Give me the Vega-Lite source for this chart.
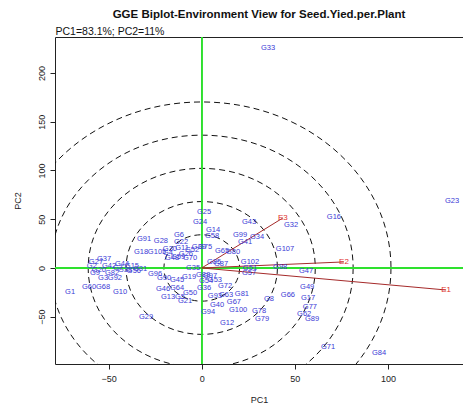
{
  "$schema": "https://vega.github.io/schema/vega-lite/v6.json",
  "autosize": "none",
  "padding": {"left": 55, "top": 37, "right": 0, "bottom": 44},
  "width": 408,
  "height": 327,
  "background": "white",
  "config": {
    "view": {"stroke": "#222", "strokeWidth": 1},
    "font": "Liberation Sans"
  },
  "title": {
    "text": "GGE Biplot-Environment View for Seed.Yied.per.Plant",
    "font": "Liberation Sans",
    "fontSize": 11.5,
    "fontWeight": "bold",
    "color": "#111",
    "anchor": "middle",
    "offset": 6
  },
  "datasets": {
    "rings": [
      {"ring": 1, "cx": 0, "cy": 0},
      {"ring": 2, "cx": 0, "cy": 0},
      {"ring": 3, "cx": 0, "cy": 0},
      {"ring": 4, "cx": 0, "cy": 0},
      {"ring": 5, "cx": 0, "cy": 0}
    ],
    "envs": [
      {"e": "E1", "x": 131.2, "y": -22.6},
      {"e": "E2", "x": 76.4, "y": 6.2},
      {"e": "E3", "x": 43.6, "y": 51.3}
    ],
    "genos": [
      {"g": "G33", "x": 35.6, "y": 225.6},
      {"g": "G23", "x": 134.4, "y": 68.7},
      {"g": "G16", "x": 71.0, "y": 52.3},
      {"g": "G32", "x": 48.0, "y": 44.1},
      {"g": "G43", "x": 25.4, "y": 47.2},
      {"g": "G25", "x": 1.2, "y": 57.4},
      {"g": "G24", "x": -0.9, "y": 47.2},
      {"g": "G14", "x": 6.1, "y": 39.0},
      {"g": "G58", "x": 5.5, "y": 32.8},
      {"g": "G99", "x": 20.6, "y": 33.8},
      {"g": "G34", "x": 29.7, "y": 31.8},
      {"g": "G41", "x": 23.3, "y": 26.7},
      {"g": "G91", "x": -31.0, "y": 29.7},
      {"g": "G28", "x": -21.9, "y": 27.7},
      {"g": "G6", "x": -12.2, "y": 33.8},
      {"g": "G22", "x": -11.1, "y": 26.7},
      {"g": "G107", "x": 44.7, "y": 19.5},
      {"g": "G18", "x": -32.6, "y": 16.4},
      {"g": "G105", "x": -24.0, "y": 16.4},
      {"g": "G4", "x": -18.1, "y": 15.4},
      {"g": "G11", "x": -10.6, "y": 20.5},
      {"g": "G52", "x": -5.2, "y": 18.5},
      {"g": "G26", "x": -8.5, "y": 14.4},
      {"g": "G59", "x": -12.7, "y": 11.3},
      {"g": "G70", "x": -6.3, "y": 10.3},
      {"g": "G48", "x": -15.9, "y": 10.3},
      {"g": "G30", "x": -17.1, "y": 19.5},
      {"g": "G39", "x": -1.5, "y": 21.5},
      {"g": "G75", "x": 1.8, "y": 21.5},
      {"g": "G65", "x": 10.9, "y": 17.4},
      {"g": "G80", "x": 16.8, "y": 16.4},
      {"g": "G102", "x": 25.9, "y": 6.2},
      {"g": "G51", "x": 25.9, "y": 0.0},
      {"g": "G57", "x": 25.4, "y": -5.1},
      {"g": "G85", "x": 6.6, "y": 6.2},
      {"g": "G87", "x": 10.4, "y": 4.1},
      {"g": "G35", "x": -4.7, "y": 0.0},
      {"g": "G98", "x": 42.1, "y": 1.0},
      {"g": "G47", "x": 56.0, "y": -3.1},
      {"g": "G49", "x": 56.6, "y": -19.5},
      {"g": "G17", "x": 57.1, "y": -30.8},
      {"g": "G77", "x": 58.1, "y": -40.0},
      {"g": "G62", "x": 55.0, "y": -47.2},
      {"g": "G89", "x": 59.2, "y": -52.3},
      {"g": "G66", "x": 46.3, "y": -27.7},
      {"g": "G8", "x": 36.1, "y": -31.8},
      {"g": "G78", "x": 30.8, "y": -44.1},
      {"g": "G79", "x": 32.4, "y": -52.3},
      {"g": "G12", "x": 13.6, "y": -56.4},
      {"g": "G100", "x": 19.5, "y": -43.1},
      {"g": "G67", "x": 17.3, "y": -34.9},
      {"g": "G81", "x": 21.6, "y": -26.7},
      {"g": "G63", "x": 13.1, "y": -27.7},
      {"g": "G93", "x": 7.1, "y": -28.7},
      {"g": "G40", "x": 8.2, "y": -37.9},
      {"g": "G94", "x": 3.4, "y": -45.1},
      {"g": "G29", "x": -29.9, "y": -50.3},
      {"g": "G71", "x": 67.8, "y": -81.0},
      {"g": "G84", "x": 95.2, "y": -87.2},
      {"g": "G1", "x": -70.7, "y": -24.6},
      {"g": "G10", "x": -43.9, "y": -24.6},
      {"g": "G60", "x": -60.5, "y": -19.5},
      {"g": "G68", "x": -53.0, "y": -19.5},
      {"g": "G36", "x": 1.2, "y": -20.5},
      {"g": "G72", "x": 12.5, "y": -18.5},
      {"g": "G97", "x": 4.5, "y": -8.2},
      {"g": "G88", "x": 0.7, "y": -7.2},
      {"g": "G53", "x": 7.1, "y": -12.3},
      {"g": "G54", "x": 2.3, "y": -13.3},
      {"g": "G96", "x": -25.1, "y": -6.2},
      {"g": "G90", "x": -20.2, "y": -10.3},
      {"g": "G45", "x": -13.3, "y": -12.3},
      {"g": "G19", "x": -6.8, "y": -9.2},
      {"g": "G46", "x": -20.8, "y": -21.5},
      {"g": "G64", "x": -13.3, "y": -20.5},
      {"g": "G13", "x": -18.1, "y": -29.7},
      {"g": "G5", "x": -11.7, "y": -29.7},
      {"g": "G50", "x": -6.3, "y": -25.6},
      {"g": "G21", "x": -9.0, "y": -33.8},
      {"g": "G27", "x": -56.8, "y": 6.2},
      {"g": "G37", "x": -52.5, "y": 9.2},
      {"g": "G2", "x": -59.0, "y": 2.1},
      {"g": "G20", "x": -55.2, "y": -2.1},
      {"g": "G42", "x": -49.8, "y": 2.1},
      {"g": "G82", "x": -48.2, "y": -5.1},
      {"g": "G3", "x": -53.0, "y": -10.3},
      {"g": "G92", "x": -46.6, "y": -10.3},
      {"g": "G9", "x": -57.3, "y": -5.1},
      {"g": "G44", "x": -42.8, "y": 4.1},
      {"g": "G15", "x": -37.5, "y": 2.1},
      {"g": "G31", "x": -33.1, "y": -1.0},
      {"g": "G38", "x": -41.2, "y": -2.1},
      {"g": "G56", "x": -36.4, "y": -3.1},
      {"g": "G7", "x": -45.0, "y": 0.0}
    ]
  },
  "resolve": {"axis": {"x": "independent", "y": "independent"}},
  "layer": [
    {
      "data": {"name": "rings"},
      "mark": {
        "type": "point",
        "shape": "M 1.14 0 C 1.14 0.5523 0.6296 1 0 1 C -0.6296 1 -1.14 0.5523 -1.14 0 C -1.14 -0.5523 -0.6296 -1 0 -1 C 0.6296 -1 1.14 -0.5523 1.14 0 Z",
        "filled": false,
        "stroke": "#111",
        "strokeWidth": 1,
        "strokeDash": [6, 4],
        "opacity": 1,
        "clip": true
      },
      "encoding": {
        "x": {"field": "cx", "type": "quantitative", "scale": {"domain": [-78.8, 140.3], "nice": false, "zero": false}, "axis": null},
        "y": {"field": "cy", "type": "quantitative", "scale": {"domain": [-98.5, 236.9], "nice": false, "zero": false}, "axis": null},
        "size": {"field": "ring", "type": "quantitative", "scale": {"type": "pow", "exponent": 2, "domain": [0, 5], "range": [0, 110224]}, "legend": null}
      }
    },
    {
      "data": {"name": "rings"},
      "mark": {"type": "rule", "color": "#2fe02f", "strokeWidth": 1.4},
      "encoding": {
        "x": {
          "datum": 0,
          "type": "quantitative",
          "scale": {"domain": [-78.8, 140.3], "nice": false, "zero": false},
          "axis": {
            "orient": "top",
            "title": "PC1=83.1%; PC2=11%",
            "titleAnchor": "start",
            "titleAlign": "left",
            "titleFont": "Liberation Sans",
            "titleFontSize": 10.5,
            "titleFontWeight": "normal",
            "titleColor": "#111",
            "titlePadding": 1,
            "labels": false,
            "ticks": false,
            "domain": false,
            "grid": false
          }
        }
      }
    },
    {
      "data": {"name": "rings"},
      "mark": {"type": "rule", "color": "#2fe02f", "strokeWidth": 1.4},
      "encoding": {
        "y": {"datum": 0, "type": "quantitative", "scale": {"domain": [-98.5, 236.9], "nice": false, "zero": false}, "axis": null}
      }
    },
    {
      "data": {"name": "envs"},
      "mark": {"type": "rule", "color": "#a52a2a", "strokeWidth": 1},
      "encoding": {
        "x": {"field": "x", "type": "quantitative", "scale": {"domain": [-78.8, 140.3], "nice": false, "zero": false}, "axis": null},
        "y": {"field": "y", "type": "quantitative", "scale": {"domain": [-98.5, 236.9], "nice": false, "zero": false}, "axis": null},
        "x2": {"datum": 0},
        "y2": {"datum": 0}
      }
    },
    {
      "data": {"name": "genos"},
      "mark": {"type": "text", "font": "Liberation Sans", "fontSize": 7.5, "color": "#3a3ad6", "align": "center", "baseline": "middle"},
      "encoding": {
        "x": {
          "field": "x",
          "type": "quantitative",
          "scale": {"domain": [-78.8, 140.3], "nice": false, "zero": false},
          "axis": {
            "orient": "bottom",
            "title": "PC1",
            "values": [-50, 0, 50, 100],
            "grid": false,
            "domain": false,
            "ticks": true,
            "tickSize": 5,
            "tickColor": "#222",
            "labelFont": "Liberation Sans",
            "labelFontSize": 9,
            "labelColor": "#222",
            "labelPadding": 5,
            "titleFont": "Liberation Sans",
            "titleFontSize": 9,
            "titleFontWeight": "normal",
            "titleColor": "#222",
            "titlePadding": 12
          }
        },
        "y": {
          "field": "y",
          "type": "quantitative",
          "scale": {"domain": [-98.5, 236.9], "nice": false, "zero": false},
          "axis": {
            "orient": "left",
            "title": "PC2",
            "values": [-50, 0, 50, 100, 150, 200],
            "grid": false,
            "domain": false,
            "ticks": true,
            "tickSize": 5,
            "tickColor": "#222",
            "labelAngle": -90,
            "labelAlign": "center",
            "labelBaseline": "bottom",
            "labelFont": "Liberation Sans",
            "labelFontSize": 9,
            "labelColor": "#222",
            "labelPadding": 4,
            "titleFont": "Liberation Sans",
            "titleFontSize": 9,
            "titleFontWeight": "normal",
            "titleColor": "#222",
            "titlePadding": 15
          }
        },
        "text": {"field": "g"}
      }
    },
    {
      "data": {"name": "envs"},
      "mark": {"type": "text", "font": "Liberation Sans", "fontSize": 8, "color": "#e0302a", "align": "center", "baseline": "middle"},
      "encoding": {
        "x": {"field": "x", "type": "quantitative", "scale": {"domain": [-78.8, 140.3], "nice": false, "zero": false}, "axis": null},
        "y": {"field": "y", "type": "quantitative", "scale": {"domain": [-98.5, 236.9], "nice": false, "zero": false}, "axis": null},
        "text": {"field": "e"}
      }
    }
  ]
}
